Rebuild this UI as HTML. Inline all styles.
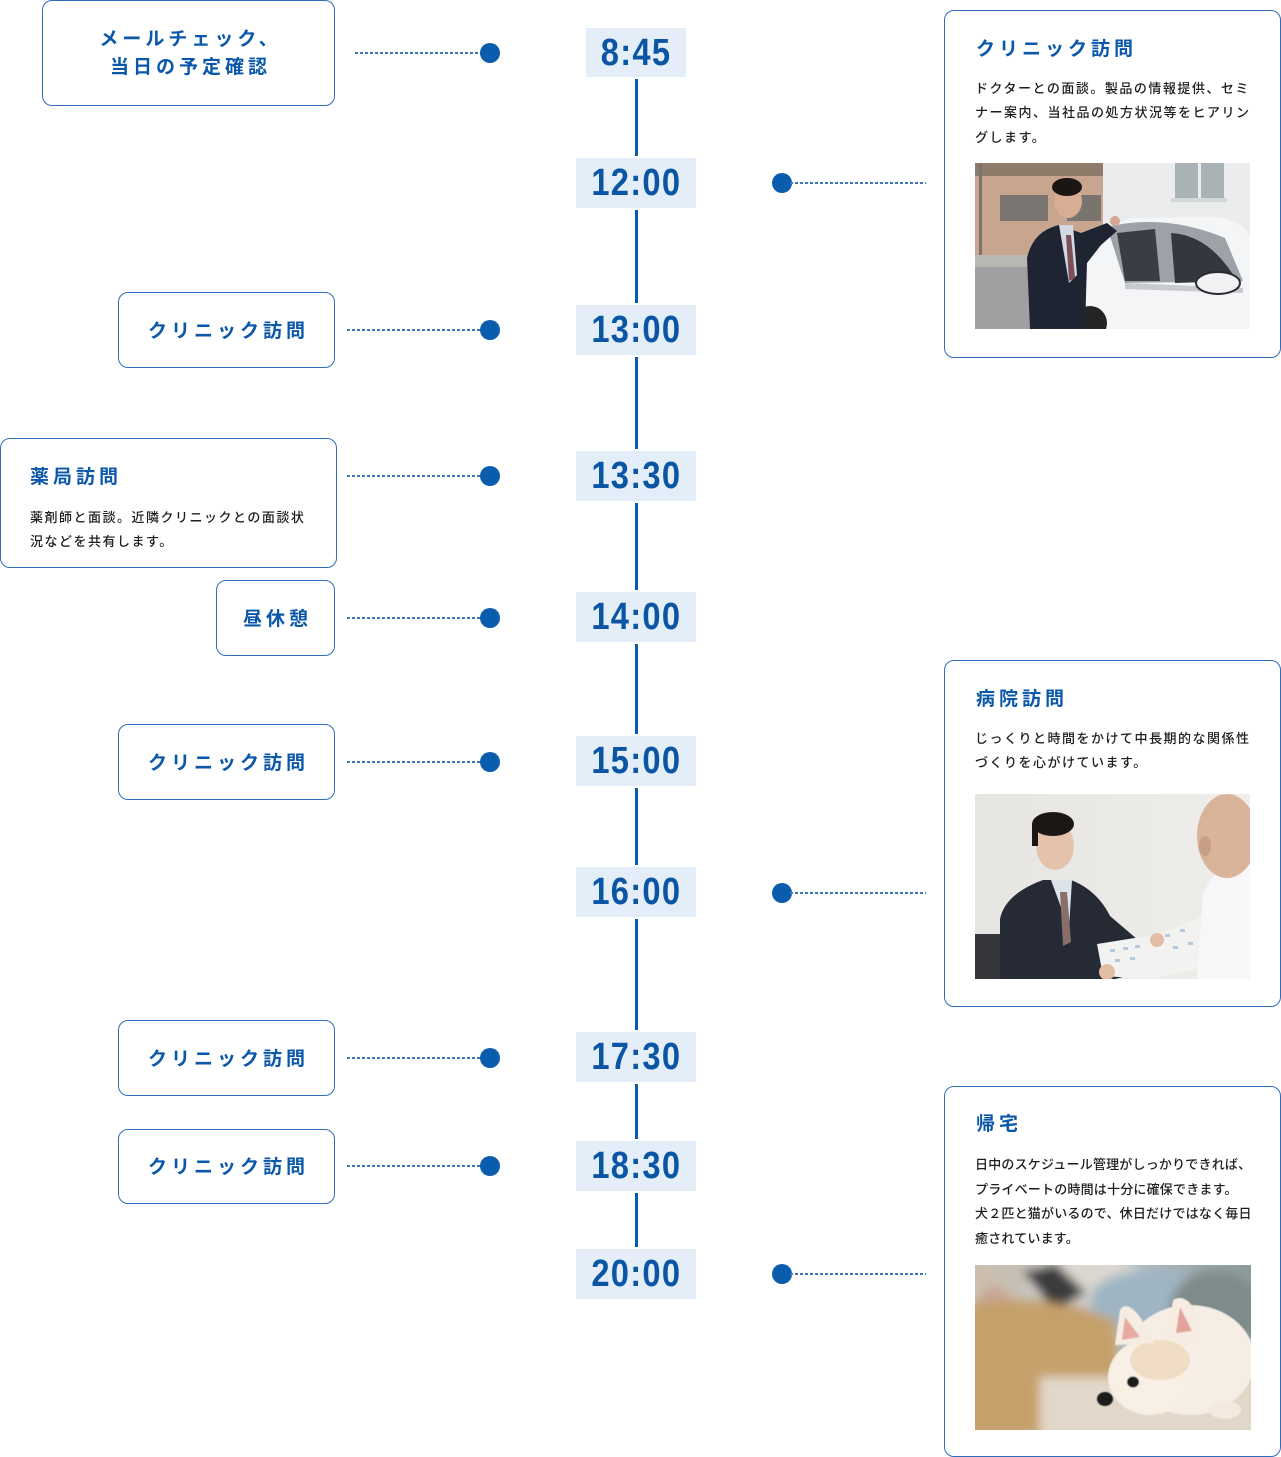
<!DOCTYPE html>
<html lang="ja">
<head>
<meta charset="utf-8">
<style>
  html,body{margin:0;padding:0;background:#fff;}
  body{width:1281px;height:1457px;position:relative;overflow:hidden;
    font-family:"Liberation Sans","Noto Sans CJK JP",sans-serif;}
  .box{position:absolute;border:1.5px solid #2f6dbb;border-radius:10px;box-sizing:border-box;background:#fff;}
  .lbl{position:absolute;color:#0b58aa;font-weight:bold;font-size:19px;letter-spacing:4px;line-height:28px;white-space:nowrap;}
  .ctr{text-align:center;left:0;right:0;padding-left:4px;}
  .body{position:absolute;color:#1e1e1e;font-size:13px;font-weight:500;letter-spacing:1.5px;line-height:24.5px;white-space:nowrap;}
  .vline{position:absolute;left:635px;width:3px;top:77px;height:1172px;background:#0b5aab;}
  .time{position:absolute;background:#e4eef8;box-shadow:0 0 0 2px #fff;height:50px;text-align:center;}
  .time span{display:inline-block;font-family:"Liberation Sans",sans-serif;font-weight:bold;font-size:38px;line-height:50px;color:#0a56a5;letter-spacing:1.5px;transform:scaleX(0.86);}
  .dot{position:absolute;width:20px;height:20px;border-radius:50%;background:#0a5cad;}
  .dash{position:absolute;height:2px;background:repeating-linear-gradient(to right,#3f78c0 0 3px,transparent 3px 5px);}
  .photo{position:absolute;overflow:hidden;}
</style>
</head>
<body>

<div class="vline"></div>

<!-- Time labels -->
<div class="time" style="left:586px;top:28px;width:100px;height:49px;"><span>8:45</span></div>
<div class="time" style="left:576px;top:158px;width:120px;"><span>12:00</span></div>
<div class="time" style="left:576px;top:305px;width:120px;"><span>13:00</span></div>
<div class="time" style="left:576px;top:451px;width:120px;"><span>13:30</span></div>
<div class="time" style="left:576px;top:592px;width:120px;"><span>14:00</span></div>
<div class="time" style="left:576px;top:736px;width:120px;"><span>15:00</span></div>
<div class="time" style="left:576px;top:867px;width:120px;"><span>16:00</span></div>
<div class="time" style="left:576px;top:1032px;width:120px;"><span>17:30</span></div>
<div class="time" style="left:576px;top:1141px;width:120px;"><span>18:30</span></div>
<div class="time" style="left:576px;top:1249px;width:120px;"><span>20:00</span></div>

<!-- Left rows -->
<div class="box" style="left:42px;top:0px;width:293px;height:106px;">
  <div class="lbl ctr" style="top:25px;">メールチェック、<br>当日の予定確認</div>
</div>
<div class="dash" style="left:355px;top:52px;width:128px;"></div>
<div class="dot" style="left:480px;top:43px;"></div>

<div class="box" style="left:118px;top:292px;width:217px;height:76px;">
  <div class="lbl ctr" style="top:25px;">クリニック訪問</div>
</div>
<div class="dash" style="left:347px;top:329px;width:136px;"></div>
<div class="dot" style="left:480px;top:320px;"></div>

<div class="box" style="left:0px;top:438px;width:337px;height:130px;">
  <div class="lbl" style="left:29px;top:25px;">薬局訪問</div>
  <div class="body" style="left:29px;top:66.5px;">薬剤師と面談。近隣クリニックとの面談状<br>況などを共有します。</div>
</div>
<div class="dash" style="left:347px;top:475px;width:136px;"></div>
<div class="dot" style="left:480px;top:466px;"></div>

<div class="box" style="left:216px;top:580px;width:119px;height:76px;">
  <div class="lbl ctr" style="top:25px;">昼休憩</div>
</div>
<div class="dash" style="left:347px;top:617px;width:136px;"></div>
<div class="dot" style="left:480px;top:608px;"></div>

<div class="box" style="left:118px;top:724px;width:217px;height:76px;">
  <div class="lbl ctr" style="top:25px;">クリニック訪問</div>
</div>
<div class="dash" style="left:347px;top:761px;width:136px;"></div>
<div class="dot" style="left:480px;top:752px;"></div>

<div class="box" style="left:118px;top:1020px;width:217px;height:76px;">
  <div class="lbl ctr" style="top:25px;">クリニック訪問</div>
</div>
<div class="dash" style="left:347px;top:1057px;width:136px;"></div>
<div class="dot" style="left:480px;top:1048px;"></div>

<div class="box" style="left:118px;top:1129px;width:217px;height:75px;">
  <div class="lbl ctr" style="top:24px;">クリニック訪問</div>
</div>
<div class="dash" style="left:347px;top:1165px;width:136px;"></div>
<div class="dot" style="left:480px;top:1156px;"></div>

<!-- Right connectors -->
<div class="dot" style="left:772px;top:173px;"></div>
<div class="dash" style="left:790px;top:182px;width:136px;"></div>
<div class="dot" style="left:772px;top:883px;"></div>
<div class="dash" style="left:790px;top:892px;width:136px;"></div>
<div class="dot" style="left:772px;top:1264px;"></div>
<div class="dash" style="left:790px;top:1273px;width:136px;"></div>

<!-- Right card A -->
<div class="box" style="left:944px;top:10px;width:337px;height:348px;">
  <div class="lbl" style="left:31px;top:25px;">クリニック訪問</div>
  <div class="body" style="left:30px;top:65.5px;">ドクターとの面談。製品の情報提供、セミ<br>ナー案内、当社品の処方状況等をヒアリン<br>グします。</div>
</div>
<div class="photo" style="left:975px;top:163px;width:275px;height:166px;">
<svg width="275" height="166" viewBox="0 0 275 166">
  <rect width="275" height="166" fill="#eaeced"/>
  <rect x="0" y="0" width="128" height="100" fill="#c7a58e"/>
  <rect x="0" y="0" width="128" height="13" fill="#8f7b69"/>
  <rect x="25" y="32" width="48" height="26" fill="#7a7570"/>
  <rect x="92" y="32" width="34" height="26" fill="#7a746e"/>
  <rect x="4" y="0" width="3" height="110" fill="#7a746e"/>
  <rect x="0" y="92" width="128" height="14" fill="#b9b7b4"/>
  <rect x="0" y="104" width="128" height="62" fill="#a0a0a2"/>
  <rect x="200" y="0" width="23" height="35" fill="#a9b3b6"/>
  <rect x="226" y="0" width="23" height="35" fill="#a9b3b6"/>
  <rect x="196" y="35" width="56" height="4" fill="#d5d8d9"/>
  <path d="M108,166 L110,105 Q118,62 160,55 L242,54 Q270,58 275,75 L275,166 Z" fill="#f4f5f6"/>
  <path d="M132,64 Q190,50 250,75 L268,118 L150,120 Z" fill="#9ea2a8"/>
  <path d="M142,70 L180,66 L185,118 L150,118 Z" fill="#3a3d44"/>
  <path d="M196,70 Q235,72 262,118 L200,120 Z" fill="#34373d"/>
  <path d="M150,120 L268,125 L268,130 L150,126 Z" fill="#c8cacd"/>
  <ellipse cx="243" cy="120" rx="22" ry="11" fill="#f1f2f3" stroke="#2a2a2e" stroke-width="2"/>
  <circle cx="115" cy="160" r="17" fill="#242426"/>
  <path d="M55,166 L52,95 Q58,68 84,62 L106,70 L132,60 L142,68 L126,82 L112,100 L110,166 Z" fill="#1f2433"/>
  <path d="M84,62 L98,62 L102,112 L94,120 Z" fill="#d2d9e2"/>
  <path d="M91,72 L96,72 L100,115 L94,118 Z" fill="#7d4f5a"/>
  <ellipse cx="93" cy="38" rx="14" ry="17" fill="#d8ac95"/>
  <ellipse cx="92" cy="24" rx="15" ry="9" fill="#1b1613"/>
  <circle cx="140" cy="58" r="5" fill="#d4a890"/>
</svg>
</div>

<!-- Right card B -->
<div class="box" style="left:944px;top:660px;width:337px;height:347px;">
  <div class="lbl" style="left:31px;top:25px;">病院訪問</div>
  <div class="body" style="left:30px;top:65.5px;">じっくりと時間をかけて中長期的な関係性<br>づくりを心がけています。</div>
</div>
<div class="photo" style="left:975px;top:794px;width:275px;height:185px;">
<svg width="275" height="185" viewBox="0 0 275 185">
  <defs>
    <linearGradient id="g2" x1="0" y1="0" x2="1" y2="0">
      <stop offset="0" stop-color="#e6e5e1"/><stop offset="1" stop-color="#efeeea"/>
    </linearGradient>
  </defs>
  <rect width="275" height="185" fill="url(#g2)"/>
  <rect x="0" y="140" width="60" height="45" fill="#35373a"/>
  <path d="M25,185 L25,125 Q30,100 68,86 L96,86 Q122,96 135,122 L170,152 L170,178 L140,185 Z" fill="#262a35"/>
  <path d="M76,86 L97,86 L94,135 Z" fill="#dde3ea"/>
  <path d="M85,98 L92,98 L96,148 L88,152 Z" fill="#8a6e68"/>
  <ellipse cx="80" cy="52" rx="19" ry="24" fill="#e5c2ac"/>
  <ellipse cx="78" cy="30" rx="21" ry="12" fill="#1c1715"/>
  <rect x="57" y="30" width="6" height="22" fill="#1c1715"/>
  <path d="M122,150 L185,140 L228,122 L236,172 L175,185 L128,182 Z" fill="#f2f3f1"/>
  <g fill="#b6c8de">
    <rect x="135" y="155" width="5" height="3"/><rect x="148" y="153" width="5" height="3"/><rect x="160" y="151" width="5" height="3"/>
    <rect x="140" y="165" width="5" height="3"/><rect x="155" y="163" width="5" height="3"/><rect x="190" y="140" width="5" height="3"/>
    <rect x="205" y="135" width="5" height="3"/><rect x="198" y="152" width="5" height="3"/><rect x="213" y="148" width="5" height="3"/>
  </g>
  <circle cx="132" cy="178" r="8" fill="#e2bda6"/>
  <circle cx="182" cy="146" r="7" fill="#e2bda6"/>
  <path d="M222,185 L228,100 Q240,72 275,55 L275,185 Z" fill="#f7f7f9"/>
  <ellipse cx="252" cy="42" rx="30" ry="42" fill="#d9b39a"/>
  <ellipse cx="230" cy="52" rx="6" ry="10" fill="#c99e86"/>
</svg>
</div>

<!-- Right card C -->
<div class="box" style="left:944px;top:1086px;width:337px;height:371px;">
  <div class="lbl" style="left:31px;top:24px;">帰宅</div>
  <div class="body" style="left:30px;top:66px;letter-spacing:0.2px;">日中のスケジュール管理がしっかりできれば、<br>プライベートの時間は十分に確保できます。<br>犬２匹と猫がいるので、休日だけではなく毎日<br>癒されています。</div>
</div>
<div class="photo" style="left:975px;top:1265px;width:276px;height:165px;">
<svg width="276" height="165" viewBox="0 0 276 165">
  <defs>
    <filter id="bl" x="-20%" y="-20%" width="140%" height="140%"><feGaussianBlur stdDeviation="5"/></filter>
    <filter id="bl2"><feGaussianBlur stdDeviation="0.6"/></filter>
    <linearGradient id="g3" x1="0" y1="0" x2="1" y2="0">
      <stop offset="0" stop-color="#cdbfae"/><stop offset="0.5" stop-color="#b9c3c9"/><stop offset="1" stop-color="#8d9a9c"/>
    </linearGradient>
  </defs>
  <rect width="276" height="165" fill="url(#g3)"/>
  <g filter="url(#bl)">
    <ellipse cx="110" cy="15" rx="60" ry="25" fill="#dcd8d0"/>
    <ellipse cx="175" cy="35" rx="60" ry="30" fill="#9fb5c4"/>
    <ellipse cx="240" cy="45" rx="45" ry="40" fill="#7f8b8a"/>
    <path d="M48,8 L80,-2 L112,28 L80,45 Z" fill="#3a3a3c"/>
    <ellipse cx="100" cy="50" rx="14" ry="10" fill="#c99a88"/>
    <ellipse cx="20" cy="50" rx="20" ry="30" fill="#c9a898"/>
    <path d="M-10,40 Q60,25 140,55 L145,112 L85,120 L65,170 L-10,170 Z" fill="#c6a06a"/>
    <rect x="65" y="112" width="220" height="60" fill="#e2d8c9"/>
  </g>
  <g filter="url(#bl2)">
    <ellipse cx="215" cy="95" rx="65" ry="55" fill="#f6eee4"/>
    <ellipse cx="175" cy="112" rx="42" ry="38" fill="#f8efe5"/>
    <ellipse cx="185" cy="95" rx="30" ry="20" fill="#f1dcc5"/>
    <path d="M140,80 L145,45 Q152,35 165,52 L180,78 Z" fill="#f6ece1"/>
    <path d="M147,75 L150,52 L165,72 Z" fill="#e6aaa3"/>
    <path d="M192,72 L198,35 Q210,28 220,45 L225,78 Z" fill="#f6ece1"/>
    <path d="M201,68 L205,42 L217,66 Z" fill="#e3a39c"/>
    <ellipse cx="158" cy="117" rx="6" ry="5.5" fill="#1c1a1a"/>
    <ellipse cx="130" cy="134" rx="8" ry="7" fill="#1e1c1c"/>
    <ellipse cx="250" cy="145" rx="16" ry="9" fill="#f3e9de"/>
  </g>
</svg>
</div>

</body>
</html>
